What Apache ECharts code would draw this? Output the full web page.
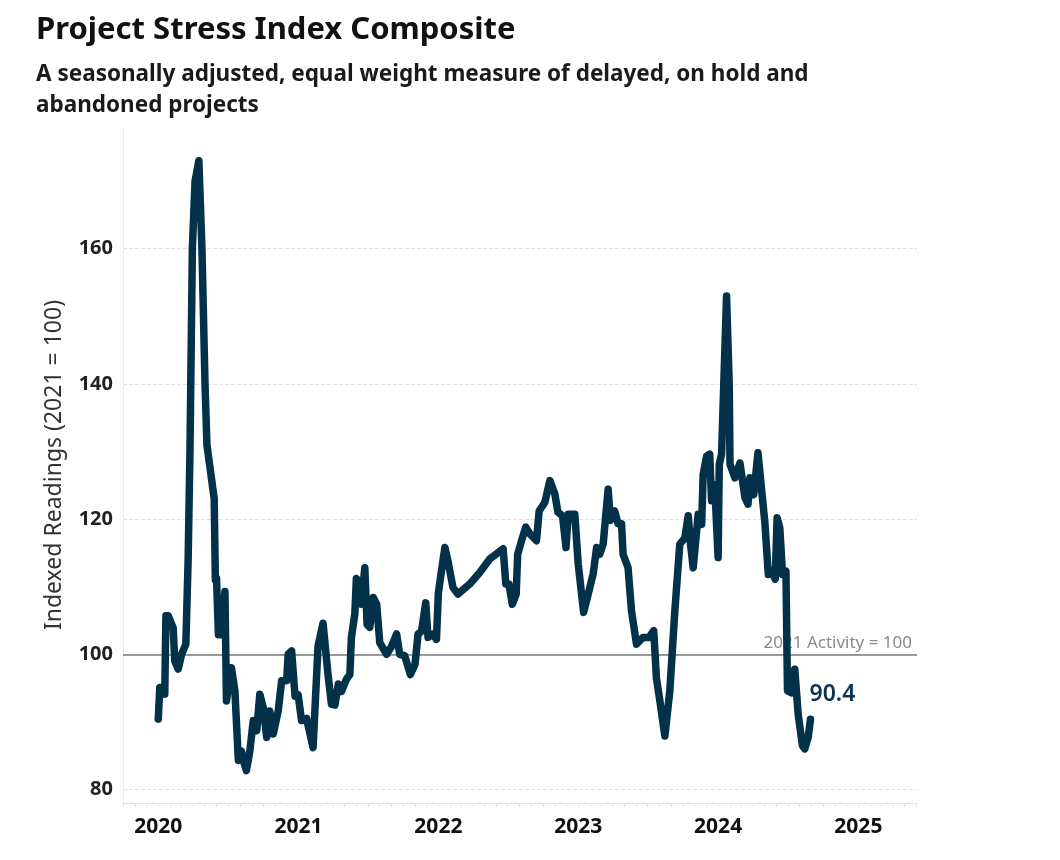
<!DOCTYPE html>
<html>
<head>
<meta charset="utf-8">
<script src="https://cdn.jsdelivr.net/npm/echarts@6/dist/echarts.min.js"></script>
<style>
  html, body { margin: 0; padding: 0; background: #ffffff; }
  #chart { width: 1060px; height: 860px; }
</style>
</head>
<body>
<div id="chart"></div>
<script>
// ---- Data ----
const titleText = 'Project Stress Index Composite';
const subtitleText = 'A seasonally adjusted, equal weight measure of delayed, on hold and\nabandoned projects';
const yAxisName = 'Indexed Readings (2021 = 100)';
const refLabel = '2021 Activity = 100';
const refValue = 100;
const yTicks = [80, 100, 120, 140, 160];
const yearTicks = ['2020-01-01', '2021-01-01', '2022-01-01', '2023-01-01', '2024-01-01', '2025-01-01'];

const dates = [
  '2020-01-01','2020-01-05','2020-01-14','2020-01-18','2020-01-21','2020-01-27','2020-02-09','2020-02-13',
  '2020-02-22','2020-03-02','2020-03-06','2020-03-13','2020-03-19','2020-03-24','2020-03-30','2020-04-06',
  '2020-04-16','2020-04-24','2020-05-02','2020-05-07','2020-05-26','2020-05-29','2020-06-01','2020-06-06',
  '2020-06-14','2020-06-23','2020-06-27','2020-07-10','2020-07-19','2020-07-28','2020-08-05','2020-08-10',
  '2020-08-18','2020-08-27','2020-09-05','2020-09-14','2020-09-22','2020-10-01','2020-10-10','2020-10-18',
  '2020-10-27','2020-11-09','2020-11-18','2020-12-01','2020-12-05','2020-12-14','2020-12-23','2020-12-31',
  '2021-01-09','2021-01-22','2021-01-31','2021-02-08','2021-02-17','2021-02-21','2021-03-06','2021-03-19',
  '2021-03-28','2021-04-06','2021-04-15','2021-04-23','2021-05-06','2021-05-15','2021-05-19','2021-05-28',
  '2021-06-01','2021-06-10','2021-06-14','2021-06-23','2021-06-29','2021-07-06','2021-07-15','2021-07-24',
  '2021-08-01','2021-08-19','2021-09-01','2021-09-14','2021-09-22','2021-10-05','2021-10-20','2021-11-01',
  '2021-11-09','2021-11-18','2021-11-29','2021-12-05','2021-12-18','2021-12-27','2022-01-01','2022-01-09',
  '2022-01-18','2022-01-26','2022-02-08','2022-02-21','2022-03-24','2022-04-19','2022-05-15','2022-06-19',
  '2022-06-26','2022-07-04','2022-07-13','2022-07-23','2022-07-27','2022-08-06','2022-08-17','2022-08-28',
  '2022-09-14','2022-09-21','2022-10-06','2022-10-19','2022-11-01','2022-11-09','2022-11-21','2022-11-30',
  '2022-12-06','2022-12-23','2023-01-01','2023-01-15','2023-01-27','2023-02-09','2023-02-18','2023-02-26',
  '2023-03-07','2023-03-20','2023-03-26','2023-04-06','2023-04-15','2023-04-24','2023-04-28','2023-05-11',
  '2023-05-20','2023-06-02','2023-06-19','2023-07-05','2023-07-17','2023-07-24','2023-08-02','2023-08-15',
  '2023-08-28','2023-09-10','2023-09-23','2023-10-06','2023-10-15','2023-10-21','2023-10-28','2023-11-06',
  '2023-11-10','2023-11-19','2023-11-23','2023-12-02','2023-12-10','2023-12-15','2023-12-23','2024-01-01',
  '2024-01-04','2024-01-10','2024-01-16','2024-01-23','2024-01-30','2024-02-01','2024-02-14','2024-02-27',
  '2024-03-11','2024-03-19','2024-03-24','2024-04-03','2024-04-14','2024-04-23','2024-05-02','2024-05-11',
  '2024-05-20','2024-05-29','2024-06-03','2024-06-10','2024-06-17','2024-06-26','2024-06-30','2024-07-11',
  '2024-07-19','2024-07-28','2024-08-08','2024-08-14','2024-08-23','2024-08-29'
];
const values = [
  90.4, 95.1, 95.1, 94.1, 105.7, 105.7, 103.9, 99.0,
  97.8, 100.0, 100.0, 101.5, 114.0, 131.0, 160.0, 170.0,
  173.0, 160.0, 140.0, 131.0, 123.0, 111.0, 111.3, 102.9,
  102.9, 109.3, 93.1, 98.0, 94.6, 84.3, 85.7, 84.3,
  82.8, 85.7, 90.2, 88.7, 94.1, 92.1, 87.7, 91.6,
  88.2, 91.6, 96.1, 96.1, 100.0, 100.5, 93.8, 94.0,
  90.2, 90.5, 88.2, 86.2, 96.6, 101.2, 104.6, 97.0,
  92.6, 92.5, 95.6, 94.5, 96.3, 97.0, 102.5, 106.0,
  111.2, 110.7, 107.4, 112.8, 104.4, 104.0, 108.4, 107.4,
  101.7, 100.0, 101.2, 103.0, 100.0, 99.8, 97.0, 98.5,
  103.0, 103.4, 107.6, 102.5, 103.0, 102.2, 109.1, 112.3,
  115.8, 113.8, 109.9, 108.9, 110.4, 112.1, 114.1, 115.6,
  110.4, 110.4, 107.4, 108.9, 114.8, 116.8, 118.8, 117.8,
  116.8, 121.2, 122.5, 125.7, 123.7, 121.0, 120.5, 115.8,
  120.7, 120.7, 113.3, 106.2, 108.9, 111.9, 115.8, 114.8,
  116.3, 124.4, 119.8, 121.2, 119.3, 119.3, 114.8, 112.8,
  106.4, 101.5, 102.5, 102.5, 103.5, 96.5, 93.1, 87.9,
  94.6, 106.4, 116.3, 117.2, 120.5, 116.3, 112.8, 118.3,
  120.7, 119.2, 126.6, 129.3, 129.6, 122.7, 125.1, 114.3,
  128.1, 129.6, 140.4, 153.0, 139.9, 128.1, 126.1, 128.3,
  123.2, 122.2, 126.1, 123.6, 129.8, 124.6, 119.5, 111.8,
  112.3, 111.1, 120.2, 118.7, 111.8, 112.3, 94.6, 94.3,
  97.8, 91.1, 86.5, 86.0, 87.7, 90.4
];

// ---- Build ----
function ts(s) { const p = s.split('-'); return Date.UTC(+p[0], +p[1] - 1, +p[2]); }
const seriesData = dates.map((d, i) => [ts(d), values[i]]);
const lastValue = values[values.length - 1];

const xMin = ts('2019-10-01');
const xMax = ts('2025-06-03');
const monthTicks = [];
for (let y = 2019; y <= 2025; y++) {
  for (let m = 0; m < 12; m++) {
    const t = Date.UTC(y, m, 1);
    if (t >= xMin && t <= xMax) monthTicks.push(t);
  }
}
const yearTickTimes = yearTicks.map(ts);

const FONT = 'Noto Sans';
const chart = echarts.init(document.getElementById('chart'), null, { renderer: 'canvas' });
chart.setOption({
  backgroundColor: '#ffffff',
  animation: false,
  textStyle: { fontFamily: FONT },
  title: [
    { text: titleText, left: 31, top: 10,
      textStyle: { fontFamily: FONT, fontSize: 31, fontWeight: 'bold', color: '#111111' } },
    { text: subtitleText, left: 31, top: 54,
      textStyle: { fontFamily: FONT, fontSize: 22.5, fontWeight: 'bold', color: '#1a1a1a', lineHeight: 31 } }
  ],
  grid: { left: 123, right: 143, top: 127, bottom: 57, containLabel: false },
  xAxis: {
    type: 'value',
    min: xMin,
    max: xMax,
    axisLine: { show: true, lineStyle: { color: '#e3e3e3', width: 1 } },
    axisTick: { show: true, customValues: monthTicks, length: 4, lineStyle: { color: '#e3e3e3' } },
    axisLabel: {
      customValues: yearTickTimes,
      formatter: v => String(new Date(v).getUTCFullYear()),
      fontFamily: FONT, fontSize: 21, fontWeight: 'bold', color: '#111111', margin: 14
    },
    splitLine: { show: false }
  },
  yAxis: {
    type: 'value',
    min: 78,
    max: 178,
    name: yAxisName,
    nameLocation: 'middle',
    nameGap: 57,
    nameRotate: 90,
    nameTextStyle: { fontFamily: FONT, fontSize: 23, color: '#333333' },
    axisLine: { show: true, lineStyle: { color: '#ececec', width: 1 } },
    axisTick: { show: false, customValues: yTicks },
    axisLabel: { customValues: yTicks, fontFamily: FONT, fontSize: 20, fontWeight: 'bold', color: '#222222', margin: 10 },
    splitLine: { show: true, lineStyle: { color: '#e2e2e2', type: [4, 2], width: 1 } }
  },
  series: [{
    type: 'line',
    data: seriesData,
    showSymbol: false,
    symbol: 'none',
    lineStyle: { color: '#033149', width: 7.5, cap: 'round', join: 'round' },
    itemStyle: { color: '#033149' },
    endLabel: {
      show: true,
      formatter: () => lastValue.toFixed(1),
      distance: 0,
      offset: [-1, -25],
      fontFamily: FONT, fontSize: 23, fontWeight: 600, color: '#0b3350'
    },
    markLine: {
      silent: true,
      symbol: 'none',
      z: 1,
      lineStyle: { color: '#7a7a7a', width: 1.5, type: 'solid' },
      label: {
        show: true, position: 'insideEndTop', formatter: refLabel, distance: [5, 3],
        fontFamily: FONT, fontSize: 17, color: '#8a8a8a'
      },
      data: [{ yAxis: refValue }]
    },
    z: 3
  }]
});
</script>
</body>
</html>
